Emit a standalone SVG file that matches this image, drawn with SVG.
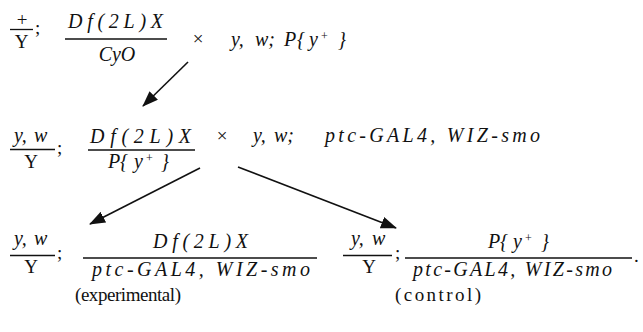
<svg xmlns="http://www.w3.org/2000/svg" width="643" height="332" viewBox="0 0 643 332">
<style>
text{fill:#111;font-size:19px}
.i{font-style:italic;font-size:20px}
.s{font-size:12px}
.c{text-anchor:middle}
.bar{stroke:#111;stroke-width:1.3}
.arr{stroke:#111;stroke-width:1.6;fill:none;marker-end:url(#ah)}
</style>
<defs>
<marker id="ah" markerUnits="userSpaceOnUse" markerWidth="17" markerHeight="13" refX="15" refY="6" orient="auto">
<path d="M0,0 L16,6 L0,12 z" fill="#111"/>
</marker>
</defs>
<rect width="643" height="332" fill="#fff"/>
<g font-family="Liberation Serif, Times New Roman, serif">

<g id="parent1-male">
<text x="22" y="25.5" class="c" font-size="18">+</text>
<line class="bar" x1="10" y1="29.5" x2="33" y2="29.5"/>
<text x="21.5" y="48" class="c">Y</text>
<text x="35" y="34">;</text>
</g>

<g id="parent1-female">
<text x="68" y="28" class="i" textLength="95" lengthAdjust="spacing">Df(2L)X</text>
<line class="bar" x1="65" y1="39" x2="167" y2="39"/>
<text x="117" y="61" class="i c">CyO</text>
</g>

<text x="198" y="45" class="c" font-size="18">×</text>

<g id="parent2">
<text x="231" y="46" class="i">y,</text>
<text x="255" y="46" class="i">w;</text>
<text x="284" y="46" class="i">P</text>
<text x="297" y="46" class="i">{</text>
<text x="309" y="46" class="i">y</text>
<text x="321" y="40" class="s">+</text>
<text x="338" y="46" class="i">}</text>
</g>

<g id="f1-male">
<text x="14" y="142" class="i">y,</text>
<text x="34" y="142" class="i">w</text>
<line class="bar" x1="10" y1="149.5" x2="55" y2="149.5"/>
<text x="31" y="168" class="c">Y</text>
<text x="57" y="154">;</text>
</g>

<g id="f1-female">
<text x="90" y="143" class="i" textLength="101" lengthAdjust="spacing">Df(2L)X</text>
<line class="bar" x1="88" y1="150" x2="195" y2="150"/>
<text x="108" y="168" class="i">P</text>
<text x="120" y="168" class="i">{</text>
<text x="134" y="168" class="i">y</text>
<text x="146" y="162" class="s">+</text>
<text x="161" y="168" class="i">}</text>
</g>

<text x="222" y="142" class="c" font-size="18">×</text>

<g id="parent3">
<text x="253" y="142" class="i">y,</text>
<text x="274" y="142" class="i">w;</text>
<text x="325" y="142" class="i" textLength="215" lengthAdjust="spacing">ptc-GAL4, WIZ-smo</text>
</g>

<g id="experimental">
<text x="14" y="245" class="i">y,</text>
<text x="34" y="245" class="i">w</text>
<line class="bar" x1="10" y1="255.5" x2="55" y2="255.5"/>
<text x="31" y="273" class="c">Y</text>
<text x="57" y="259">;</text>
<text x="153" y="248" class="i" textLength="95" lengthAdjust="spacing">Df(2L)X</text>
<line class="bar" x1="83" y1="258" x2="317" y2="258"/>
<text x="92" y="276" class="i" textLength="218" lengthAdjust="spacing">ptc-GAL4, WIZ-smo</text>
<text x="75" y="301" font-size="18" textLength="106" lengthAdjust="spacing">(experimental)</text>
</g>

<g id="control">
<text x="351" y="245" class="i">y,</text>
<text x="372" y="245" class="i">w</text>
<line class="bar" x1="343" y1="255.5" x2="392" y2="255.5"/>
<text x="369" y="273" class="c">Y</text>
<text x="395" y="259">;</text>
<text x="488" y="248" class="i">P</text>
<text x="500" y="248" class="i">{</text>
<text x="513" y="248" class="i">y</text>
<text x="525" y="242" class="s">+</text>
<text x="541" y="248" class="i">}</text>
<line class="bar" x1="405" y1="258" x2="632" y2="258"/>
<text x="634" y="262">.</text>
<text x="413" y="276" class="i" textLength="199" lengthAdjust="spacing">ptc-GAL4, WIZ-smo</text>
<text x="395" y="301" font-size="20" textLength="86" lengthAdjust="spacing">(control)</text>
</g>

</g>
<g id="connectors">
<line class="arr" x1="188" y1="62" x2="143" y2="106"/>
<line class="arr" x1="200" y1="168" x2="90" y2="224"/>
<line class="arr" x1="238" y1="167" x2="396" y2="228"/>
</g>
</svg>
